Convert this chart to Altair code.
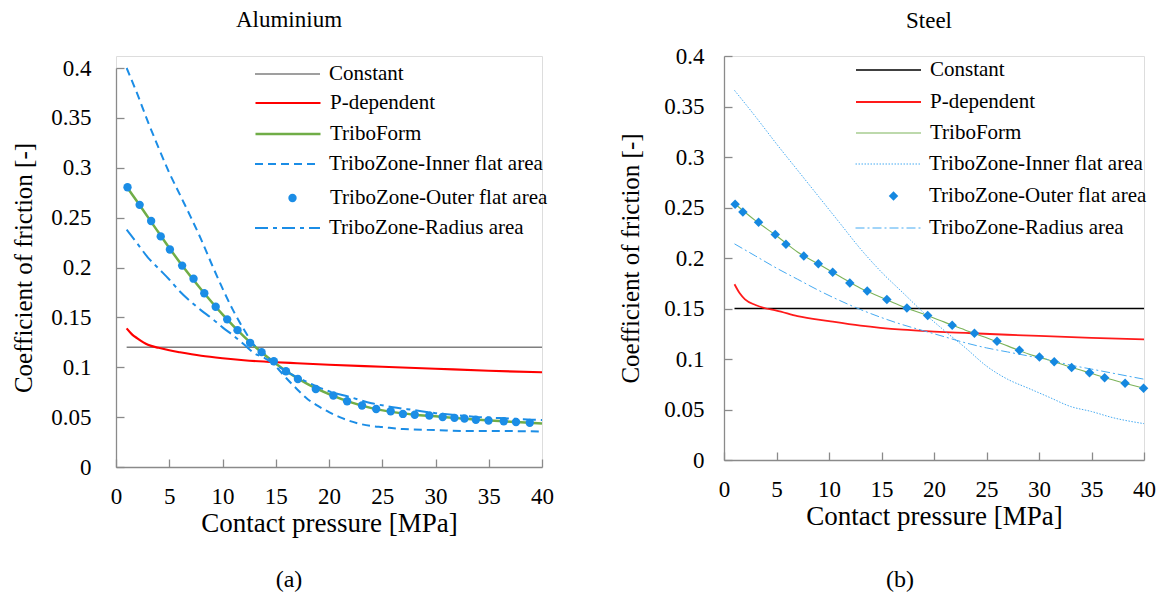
import altair as alt
import pandas as pd

FONT = "Liberation Serif"

# ---------------- Aluminium (a) ----------------
al_const_p = [1, 40]
al_const_c = [0.12, 0.12]

al_pdep_p = [1, 1.5, 2, 3, 4, 5, 6, 8, 10, 12, 15, 17, 20, 25, 30, 35, 40]
al_pdep_c = [0.139, 0.133, 0.129, 0.1225, 0.1195, 0.117, 0.115, 0.1115, 0.109, 0.107,
             0.105, 0.104, 0.1025, 0.1005, 0.0985, 0.0965, 0.095]

al_tf_p = [1, 2, 4, 6, 8, 10, 12, 14, 16, 18, 20, 22, 24, 26, 28, 30, 32, 34, 36, 38, 40]
al_tf_c = [0.281, 0.266, 0.235, 0.205, 0.178, 0.153, 0.131, 0.112, 0.096, 0.083, 0.073,
           0.065, 0.059, 0.055, 0.0525, 0.0508, 0.049, 0.0473, 0.046, 0.0448, 0.0435]

al_inner_p = [1, 2, 3, 4, 5, 6, 7, 8, 9, 10, 11, 12, 13, 14, 15, 16, 17, 18, 19, 20,
              21, 22, 23, 24, 25, 27, 30, 33, 35, 37, 40]
al_inner_c = [0.400, 0.374, 0.346, 0.320, 0.295, 0.273, 0.251, 0.228, 0.203, 0.179,
              0.157, 0.138, 0.122, 0.113, 0.101, 0.089, 0.078, 0.068, 0.061, 0.055,
              0.050, 0.046, 0.043, 0.041, 0.040, 0.038, 0.037, 0.036, 0.036, 0.036, 0.0355]

al_outer_p = [1.08, 2.22, 3.30, 4.20, 5.06, 6.21, 7.28, 8.29, 9.36, 10.44, 11.41, 12.59,
              13.67, 14.82, 15.96, 17.08, 18.76, 20.41, 21.70, 23.10, 24.43, 25.79, 26.94,
              28.05, 29.42, 30.67, 31.78, 32.72, 33.79, 34.98, 36.41, 37.56, 38.85]
al_outer_c = [0.2805, 0.2628, 0.2466, 0.2312, 0.2181, 0.2019, 0.1888, 0.1742, 0.1607,
              0.1480, 0.1372, 0.1245, 0.1152, 0.1060, 0.0960, 0.0882, 0.0782, 0.0717,
              0.0659, 0.0617, 0.0582, 0.0559, 0.0532, 0.0524, 0.0516, 0.0501, 0.0493,
              0.0486, 0.0474, 0.0466, 0.0459, 0.0451, 0.0443]

al_radius_p = [1, 2, 3, 4, 5, 6, 7, 8, 9, 10, 11, 12, 13, 14, 15, 16, 17, 18, 19, 20,
               22, 24, 26, 28, 30, 32, 34, 36, 38, 40]
al_radius_c = [0.238, 0.224, 0.210, 0.199, 0.188, 0.176, 0.166, 0.157, 0.149, 0.140,
               0.132, 0.123, 0.114, 0.109, 0.102, 0.096, 0.090, 0.085, 0.080, 0.076,
               0.070, 0.064, 0.060, 0.057, 0.054, 0.052, 0.050, 0.049, 0.048, 0.047]

# ---------------- Steel (b) ----------------
st_const_p = [1, 40]
st_const_c = [0.15, 0.15]

st_pdep_p = [1, 1.5, 2, 3, 4, 5, 7, 10, 13, 17, 20, 23, 27, 30, 35, 40]
st_pdep_c = [0.174, 0.165, 0.159, 0.1535, 0.150, 0.148, 0.1425, 0.1375, 0.1330, 0.1290,
             0.1272, 0.1258, 0.1240, 0.1228, 0.1210, 0.1194]

st_tf_p = [1, 3, 5, 7, 9, 11, 13, 15, 17, 19, 21, 23, 25, 27, 29, 31, 33, 35, 37, 40]
st_tf_c = [0.254, 0.237, 0.222, 0.206, 0.194, 0.182, 0.170, 0.161, 0.152, 0.1445,
           0.1365, 0.1285, 0.121, 0.113, 0.105, 0.0988, 0.092, 0.0857, 0.0795, 0.071]

st_inner_p = [1, 3, 5, 7, 9, 11, 13, 15, 17, 19, 21, 23, 25, 27, 29, 31, 33, 35, 37, 40]
st_inner_c = [0.366, 0.340, 0.313, 0.287, 0.261, 0.235, 0.209, 0.186, 0.166, 0.146,
              0.128, 0.111, 0.093, 0.080, 0.071, 0.062, 0.053, 0.048, 0.042, 0.036]

st_outer_p = [1.06, 1.80, 3.29, 4.88, 5.90, 7.60, 8.98, 10.35, 11.98, 13.64, 15.51, 17.42,
              19.40, 21.73, 23.85, 26.0, 28.13, 30.04, 31.45, 33.11, 34.81, 36.25, 38.20, 39.96]
st_outer_c = [0.2532, 0.2456, 0.2354, 0.2232, 0.2137, 0.2019, 0.1943, 0.1859, 0.1753,
              0.1673, 0.1589, 0.1506, 0.1430, 0.1335, 0.1255, 0.1175, 0.1087, 0.1019,
              0.0973, 0.0916, 0.0863, 0.0814, 0.0760, 0.0711]

st_radius_p = [1, 3, 5, 7, 9, 11, 13, 15, 17, 19, 21, 23, 25, 27, 29, 31, 33, 35, 37, 40]
st_radius_c = [0.214, 0.202, 0.190, 0.179, 0.168, 0.158, 0.149, 0.141, 0.134, 0.128,
               0.122, 0.116, 0.111, 0.107, 0.103, 0.099, 0.094, 0.090, 0.086, 0.080]

series_names = ["Constant", "P-dependent", "TriboForm", "TriboZone-Inner flat area",
                "TriboZone-Outer flat area", "TriboZone-Radius area"]
x_ticks = [0, 5, 10, 15, 20, 25, 30, 35, 40]
y_ticks = [0, 0.05, 0.1, 0.15, 0.2, 0.25, 0.3, 0.35, 0.4]

AXIS_GRAY = "#8a8a8a"


def frame(p, c, name):
    return pd.DataFrame({"p": p, "c": c, "s": name})


def make_panel(cfg):
    W, H, T = cfg["W"], cfg["H"], cfg["top"]
    GH = H + T
    xs = alt.Scale(domain=[0, 40], nice=False, zero=False)
    ys = alt.Scale(domain=[0, 0.4], nice=False, zero=False, range=[GH, T])

    ax_lab_x = alt.Axis(orient="bottom", values=x_ticks, ticks=False, tickSize=0,
                        labelPadding=cfg["xlp"], labelFont=FONT, labelFontSize=cfg["tfs"],
                        labelColor="black", labelFlush=False, labelOverlap=False,
                        domainColor=AXIS_GRAY, domainWidth=1.3, grid=False,
                        title="Contact pressure [MPa]", titleFont=FONT,
                        titleFontSize=cfg["atfs"], titleFontWeight="normal",
                        titleColor="black", titlePadding=cfg["xtp"])
    ax_lab_y = alt.Axis(orient="left", values=y_ticks, ticks=False, tickSize=0,
                        format="~g", labelPadding=cfg["ylp"], labelFont=FONT,
                        labelFontSize=cfg["tfs"], labelColor="black", labelFlush=False,
                        labelOverlap=False, domainColor=AXIS_GRAY, domainWidth=1.3,
                        grid=False, title="Coefficient of friction [-]", titleFont=FONT,
                        titleFontSize=cfg["ytfs"], titleFontWeight="normal",
                        titleColor="black", titlePadding=cfg["ytp"])
    ax_tick_x = alt.Axis(orient="top", offset=-GH, values=x_ticks, labels=False,
                         domain=False, ticks=True, tickSize=8, tickColor=AXIS_GRAY,
                         tickWidth=1.3, grid=False, title=None)
    ax_tick_y = alt.Axis(orient="right", offset=-W, values=y_ticks, labels=False,
                         domain=False, ticks=True, tickSize=8, tickColor=AXIS_GRAY,
                         tickWidth=1.3, grid=False, title=None)

    def leg(i, **kw):
        base = dict(orient="none", legendX=cfg["legx"], legendY=cfg["legy"][i] + T,
                    title=None, labelFont=FONT, labelFontSize=cfg["lfs"],
                    labelColor="black", labelLimit=0, padding=0, clipHeight=24)
        base.update(kw)
        return alt.Legend(**base)

    def color(name, col, legend):
        return alt.Color("s:N", scale=alt.Scale(domain=[name], range=[col]), legend=legend)

    layers = []
    st = cfg["styles"]
    order = ["const", "pdep", "tf", "inner", "radius"]
    for key in order:
        sty = st[key]
        idx = {"const": 0, "pdep": 1, "tf": 2, "inner": 3, "radius": 5}[key]
        name = series_names[idx]
        if key == "const":
            axx, axy = ax_lab_x, ax_lab_y
        elif key == "pdep":
            axx, axy = ax_tick_x, ax_tick_y
        else:
            axx, axy = None, None
        lkw = dict(symbolType="stroke", symbolSize=cfg["symlen"] ** 2,
                   symbolStrokeWidth=sty["w"], labelOffset=cfg["loff"])
        mk = dict(strokeWidth=sty["w"])
        if sty.get("dash"):
            lkw["symbolDash"] = sty["dash"]
            mk["strokeDash"] = sty["dash"]
        layers.append(
            alt.Chart(frame(cfg[key][0], cfg[key][1], name))
            .mark_line(interpolate="monotone", **mk)
            .encode(x=alt.X("p:Q", scale=xs, axis=axx),
                    y=alt.Y("c:Q", scale=ys, axis=axy),
                    color=color(name, sty["col"], leg(idx, **lkw)),
                    order="p:Q")
        )
    so = st["outer"]
    layers.append(
        alt.Chart(frame(cfg["outer"][0], cfg["outer"][1], series_names[4]))
        .mark_point(filled=True, opacity=1, shape=so["shape"], size=so["size"])
        .encode(x=alt.X("p:Q", scale=xs, axis=None),
                y=alt.Y("c:Q", scale=ys, axis=None),
                color=color(series_names[4], so["col"],
                            leg(4, symbolType=so["shape"], symbolSize=so["size"],
                                symbolStrokeWidth=0, labelOffset=cfg["ptoff"],
                                legendX=cfg["ptx"])))
    )
    layers.append(
        alt.Chart(pd.DataFrame({"t": [cfg["tag"]]}))
        .mark_text(font=FONT, fontSize=24, color="black", align="center", baseline="middle")
        .encode(text="t:N", x=alt.value(cfg["tagx"]), y=alt.value(cfg["tagy"]))
    )
    return (
        alt.layer(*layers)
        .resolve_scale(color="independent")
        .resolve_axis(x="independent", y="independent")
        .properties(width=W, height=GH,
                    title=alt.TitleParams(cfg["title"], font=FONT, fontSize=23,
                                          fontWeight="normal", color="black",
                                          anchor="middle", frame="group",
                                          dx=cfg["tdx"], offset=cfg["toff"]))
    )


blue = "#1b8de6"
lblue = "#45aaf2"

left = make_panel(dict(
    W=426, H=399, top=12, title="Aluminium", tdx=-40, toff=24, tag="(a)", tagx=173, tagy=524,
    xlp=18, xtp=2, ylp=25, ytp=14, tfs=23, atfs=27, ytfs=25, lfs=21,
    legx=138, legy=[-6, 23, 54, 84, 118, 148], symlen=65, loff=8, ptx=166, ptoff=27,
    const=(al_const_p, al_const_c), pdep=(al_pdep_p, al_pdep_c), tf=(al_tf_p, al_tf_c),
    inner=(al_inner_p, al_inner_c), radius=(al_radius_p, al_radius_c),
    outer=(al_outer_p, al_outer_c),
    styles=dict(const=dict(col="#7f7f7f", w=1.5), pdep=dict(col="#ff0000", w=2.2),
                tf=dict(col="#70ad47", w=2.5), inner=dict(col=blue, w=2, dash=[8, 5]),
                radius=dict(col=blue, w=2, dash=[13, 5, 4, 5]),
                outer=dict(col=blue, shape="circle", size=70)),
))

right = make_panel(dict(
    W=420, H=404, top=0, title="Steel", tdx=-5, toff=12, tag="(b)", tagx=176, tagy=524,
    xlp=18, xtp=2, ylp=20, ytp=20, tfs=23, atfs=27, ytfs=25, lfs=21,
    legx=131, legy=[2, 34, 65, 96, 128, 160], symlen=65, loff=8, ptx=159, ptoff=25,
    const=(st_const_p, st_const_c), pdep=(st_pdep_p, st_pdep_c), tf=(st_tf_p, st_tf_c),
    inner=(st_inner_p, st_inner_c), radius=(st_radius_p, st_radius_c),
    outer=(st_outer_p, st_outer_c),
    styles=dict(const=dict(col="#000000", w=1.6), pdep=dict(col="#ff1a1a", w=1.8),
                tf=dict(col="#7cb35a", w=1.1), inner=dict(col=lblue, w=1.0, dash=[1.5, 1.5]),
                radius=dict(col=lblue, w=1.0, dash=[9, 3, 2, 3]),
                outer=dict(col="#1588e0", shape="diamond", size=90)),
))

chart = (
    alt.hconcat(left, right, spacing=64)
    .resolve_scale(color="independent")
    .properties(padding={"left": 3, "top": 0, "right": 0, "bottom": 0})
    .configure_view(stroke=None)
    .configure(font=FONT)
)

chart.save("out.html", embed_options={"renderer": "svg", "actions": False})
